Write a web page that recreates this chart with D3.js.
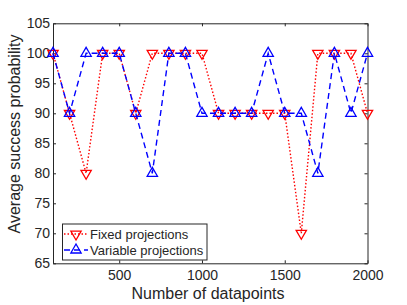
<!DOCTYPE html>
<html>
<head>
<meta charset="utf-8">
<script src="https://cdn.jsdelivr.net/npm/d3@7"></script>
<style>
  body { margin: 0; background: #fff; }
  text { font-family: "Liberation Sans", Arial, sans-serif; fill: #262626; }
</style>
</head>
<body>
<div id="chart"></div>
<script>
// data
var datapoints = [100, 200, 300, 400, 500, 600, 700, 800, 900, 1000,
                  1100, 1200, 1300, 1400, 1500, 1600, 1700, 1800, 1900, 2000];
var fixedProj = [100, 90, 80, 100, 100, 90, 100, 100, 100, 100,
                 90, 90, 90, 90, 90, 70, 100, 100, 100, 90];
var variableProj = [100, 90, 100, 100, 100, 90, 80, 100, 100, 90,
                    90, 90, 90, 100, 90, 90, 80, 100, 90, 100];
var xTicks = [500, 1000, 1500, 2000];
var yTicks = [65, 70, 75, 80, 85, 90, 95, 100, 105];
var seriesNames = ["Fixed projections", "Variable projections"];

var width = 407, height = 305;
var plotL = 53, plotR = 367.5, plotT = 23.3, plotB = 263.3;

var svg = d3.select('#chart').append('svg')
    .attr('width', width)
    .attr('height', height);

var x = d3.scaleLinear().domain([100, 2000]).range([plotL, plotR]);
var y = d3.scaleLinear().domain([65, 105]).range([plotB, plotT]);

// axes, ticks pointing inward like matlab
var axisStyle = function (g) {
    g.select('.domain').attr('stroke', '#262626').attr('stroke-width', 1);
    g.selectAll('.tick line').attr('stroke', '#262626');
    g.selectAll('.tick text').style('font-size', '14px').attr('fill', '#262626');
};

svg.append('g')
    .attr('transform', 'translate(0,' + plotB + ')')
    .call(d3.axisBottom(x).tickValues(xTicks).tickFormat(d3.format('d'))
        .tickSizeInner(-3).tickSizeOuter(0).tickPadding(7))
    .call(axisStyle);
svg.append('g')
    .attr('transform', 'translate(0,' + plotT + ')')
    .call(d3.axisTop(x).tickValues(xTicks).tickSizeInner(-3).tickSizeOuter(0).tickFormat(''))
    .call(axisStyle);
svg.append('g')
    .attr('transform', 'translate(' + plotL + ',0)')
    .call(d3.axisLeft(y).tickValues(yTicks).tickSizeInner(-3).tickSizeOuter(0).tickPadding(3))
    .call(axisStyle);
svg.append('g')
    .attr('transform', 'translate(' + plotR + ',0)')
    .call(d3.axisRight(y).tickValues(yTicks).tickSizeInner(-3).tickSizeOuter(0).tickFormat(''))
    .call(axisStyle);

// axis labels
svg.append('text')
    .attr('x', 208)
    .attr('y', 298.5)
    .attr('text-anchor', 'middle')
    .style('font-size', '16px')
    .text('Number of datapoints');
svg.append('text')
    .attr('transform', 'translate(20,134) rotate(-90)')
    .attr('text-anchor', 'middle')
    .style('font-size', '16px')
    .text('Average success probability');

var line = d3.line()
    .x(function (d) { return x(d[0]); })
    .y(function (d) { return y(d[1]); });

var tri = d3.symbol().type(d3.symbolTriangle).size(46);

var series = [
    { name: seriesNames[0], values: fixedProj, color: '#ff0000', dash: '1.5,2', rot: 180 },
    { name: seriesNames[1], values: variableProj, color: '#0000ff', dash: '6,4', rot: 0 }
];

series.forEach(function (s) {
    var pts = datapoints.map(function (d, i) { return [d, s.values[i]]; });
    svg.append('path')
        .datum(pts)
        .attr('fill', 'none')
        .attr('stroke', s.color)
        .attr('stroke-width', 1.4)
        .attr('stroke-dasharray', s.dash)
        .attr('d', line);
    svg.selectAll(null)
        .data(pts)
        .enter()
        .append('path')
        .attr('d', tri)
        .attr('fill', 'none')
        .attr('stroke', s.color)
        .attr('stroke-width', 1.3)
        .attr('transform', function (d) {
            return 'translate(' + x(d[0]) + ',' + y(d[1]) + ') rotate(' + s.rot + ')';
        });
});

// legend
var lg = svg.append('g');
lg.append('rect')
    .attr('x', 62.5).attr('y', 224)
    .attr('width', 144.5).attr('height', 36)
    .attr('fill', '#fff')
    .attr('stroke', '#262626')
    .attr('stroke-width', 1);
series.forEach(function (s, i) {
    var ly = 234 + i * 16;
    lg.append('line')
        .attr('x1', 64).attr('x2', 88)
        .attr('y1', ly).attr('y2', ly)
        .attr('stroke', s.color)
        .attr('stroke-width', 1.4)
        .attr('stroke-dasharray', s.dash);
    lg.append('path')
        .attr('d', tri)
        .attr('fill', 'none')
        .attr('stroke', s.color)
        .attr('stroke-width', 1.3)
        .attr('transform', 'translate(76,' + ly + ') rotate(' + s.rot + ')');
    lg.append('text')
        .attr('x', 90)
        .attr('y', ly + 4.7)
        .style('font-size', '13px')
        .text(s.name);
});
</script>
</body>
</html>
